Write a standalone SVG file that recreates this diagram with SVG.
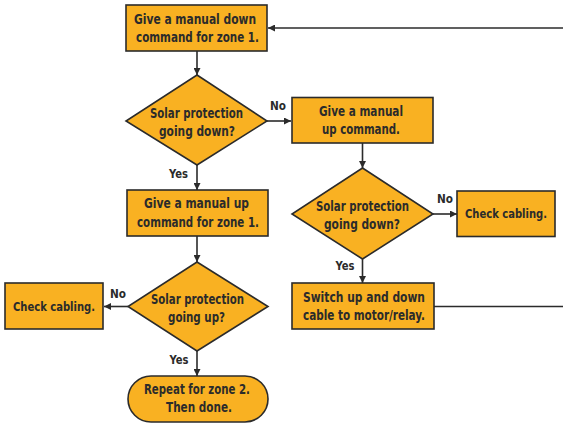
<svg xmlns="http://www.w3.org/2000/svg" width="563" height="424" viewBox="0 0 563 424">
<style>
.box{fill:#F9B122;stroke:#2b2b2b;stroke-width:1.6}
.t{font-family:"DejaVu Sans Condensed","DejaVu Sans",sans-serif;font-weight:bold;font-size:14px;fill:#2b2b2b;text-anchor:middle}
.s{font-size:13px}
.lbl{font-family:"DejaVu Sans Condensed","DejaVu Sans",sans-serif;font-weight:bold;font-size:13px;fill:#2b2b2b;text-anchor:middle}
.c{stroke:#2b2b2b;stroke-width:1.6;fill:none}
</style>
<defs>
<marker id="ah" viewBox="0 0 10 10" refX="10" refY="5" markerWidth="7" markerHeight="7" markerUnits="userSpaceOnUse" orient="auto">
<path d="M0,0 L10,5 L0,10 z" fill="#2b2b2b"/>
</marker>
</defs>
<g id="connectors">
<path class="c" d="M563,28 L268,28" marker-end="url(#ah)"/>
<path class="c" d="M197,51 L197,75" marker-end="url(#ah)"/>
<path class="c" d="M267,121 L291,121" marker-end="url(#ah)"/>
<path class="c" d="M197,165 L197,190" marker-end="url(#ah)"/>
<path class="c" d="M362.5,143 L362.5,168" marker-end="url(#ah)"/>
<path class="c" d="M433,214 L457,214" marker-end="url(#ah)"/>
<path class="c" d="M362.5,259 L362.5,283" marker-end="url(#ah)"/>
<path class="c" d="M434,306.5 L563,306.5"/>
<path class="c" d="M197,236 L197,262" marker-end="url(#ah)"/>
<path class="c" d="M128,306.5 L104,306.5" marker-end="url(#ah)"/>
<path class="c" d="M197,351 L197,376" marker-end="url(#ah)"/>
<text class="lbl" x="278" y="110" textLength="16" lengthAdjust="spacingAndGlyphs">No</text>
<text class="lbl" x="178.5" y="178" textLength="19" lengthAdjust="spacingAndGlyphs">Yes</text>
<text class="lbl" x="445" y="203" textLength="16" lengthAdjust="spacingAndGlyphs">No</text>
<text class="lbl" x="345" y="270" textLength="19" lengthAdjust="spacingAndGlyphs">Yes</text>
<text class="lbl" x="118" y="298" textLength="16" lengthAdjust="spacingAndGlyphs">No</text>
<text class="lbl" x="179" y="364" textLength="19" lengthAdjust="spacingAndGlyphs">Yes</text>
</g>
<g id="n1">
<rect class="box" x="126" y="5" width="141" height="46"/>
<text class="t" x="195" y="23.5" textLength="122" lengthAdjust="spacingAndGlyphs">Give a manual down</text>
<text class="t" x="197.5" y="42" textLength="123" lengthAdjust="spacingAndGlyphs">command for zone 1.</text>
</g>
<g id="d1">
<polygon class="box" points="197,75 267,121 197,165 126,121"/>
<text class="t" x="196.5" y="118" textLength="93" lengthAdjust="spacingAndGlyphs">Solar protection</text>
<text class="t" x="197" y="136" textLength="76" lengthAdjust="spacingAndGlyphs">going down?</text>
</g>
<g id="n2">
<rect class="box" x="292" y="97.5" width="141" height="45.5"/>
<text class="t" x="361" y="116" textLength="84" lengthAdjust="spacingAndGlyphs">Give a manual</text>
<text class="t" x="361" y="134" textLength="78" lengthAdjust="spacingAndGlyphs">up command.</text>
</g>
<g id="d2">
<polygon class="box" points="362.5,168 433,214 362.5,259 292,214"/>
<text class="t" x="362.5" y="211" textLength="93" lengthAdjust="spacingAndGlyphs">Solar protection</text>
<text class="t" x="362" y="229" textLength="76" lengthAdjust="spacingAndGlyphs">going down?</text>
</g>
<g id="n3">
<rect class="box" x="457" y="191" width="98" height="45.5"/>
<text class="t s" x="506" y="218" textLength="82" lengthAdjust="spacingAndGlyphs">Check cabling.</text>
</g>
<g id="n4">
<rect class="box" x="292" y="283" width="142" height="46"/>
<text class="t" x="364" y="302" textLength="122" lengthAdjust="spacingAndGlyphs">Switch up and down</text>
<text class="t" x="364" y="320" textLength="122" lengthAdjust="spacingAndGlyphs">cable to motor/relay.</text>
</g>
<g id="n5">
<rect class="box" x="127" y="190" width="141" height="46"/>
<text class="t" x="196.5" y="208" textLength="105" lengthAdjust="spacingAndGlyphs">Give a manual up</text>
<text class="t" x="198" y="227" textLength="122" lengthAdjust="spacingAndGlyphs">command for zone 1.</text>
</g>
<g id="d3">
<polygon class="box" points="197,262 268,306.5 197,351 128,306.5"/>
<text class="t" x="197.5" y="304" textLength="93" lengthAdjust="spacingAndGlyphs">Solar protection</text>
<text class="t" x="196.5" y="322" textLength="57" lengthAdjust="spacingAndGlyphs">going up?</text>
</g>
<g id="n6">
<rect class="box" x="5" y="283" width="98" height="46"/>
<text class="t s" x="54" y="311" textLength="82" lengthAdjust="spacingAndGlyphs">Check cabling.</text>
</g>
<g id="n7">
<rect class="box" x="128" y="376" width="140" height="46" rx="23" ry="23"/>
<text class="t" x="197" y="394" textLength="106" lengthAdjust="spacingAndGlyphs">Repeat for zone 2.</text>
<text class="t" x="199" y="412" textLength="66" lengthAdjust="spacingAndGlyphs">Then done.</text>
</g>
</svg>
